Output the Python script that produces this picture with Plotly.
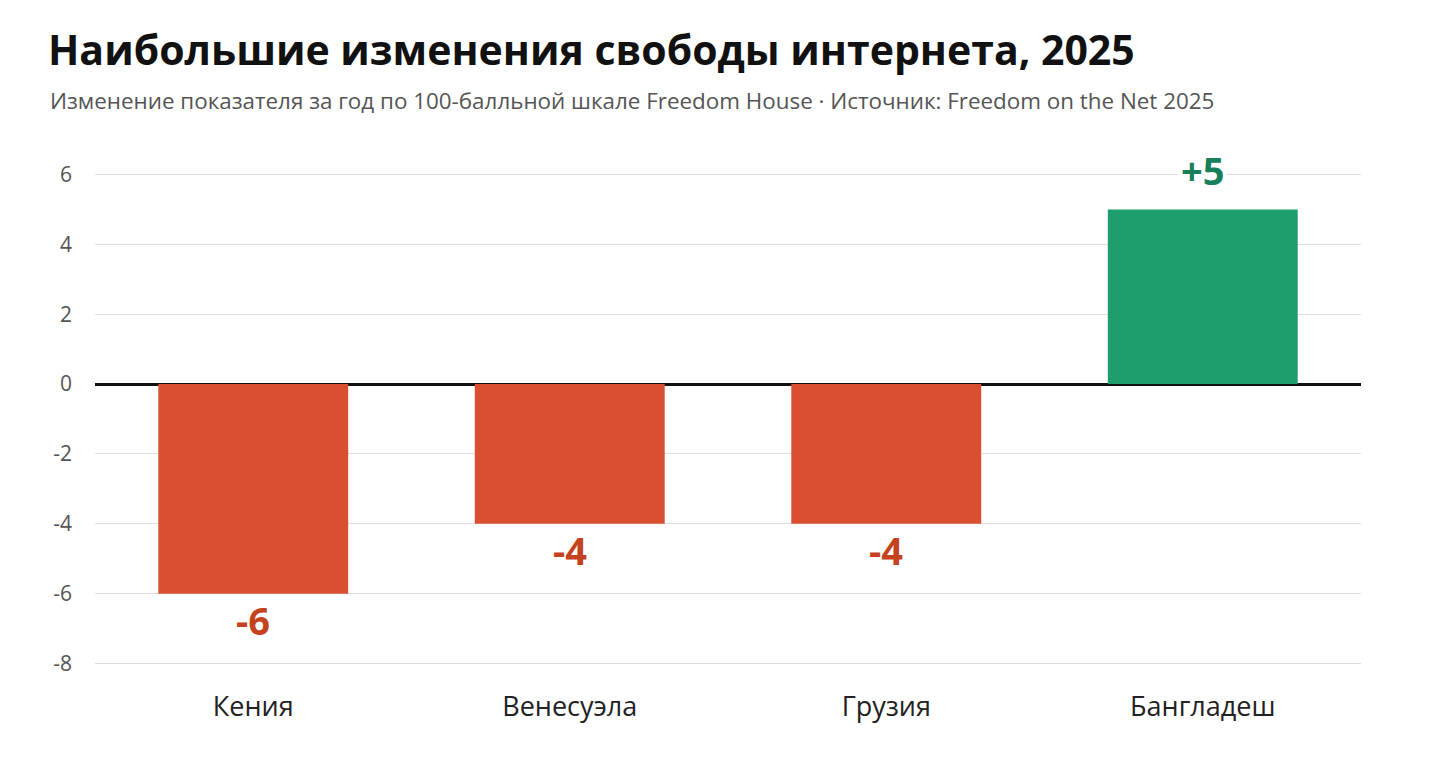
import plotly.graph_objects as go

# Data
countries = ["Кения", "Венесуэла", "Грузия", "Бангладеш"]
changes = [-6, -4, -4, 5]
value_labels = ["-6", "-4", "-4", "+5"]
y_ticks = [-8, -6, -4, -2, 0, 2, 4, 6]
y_tick_text = ["-8", "-6", "-4", "-2", "0", "2", "4", "6"]

RED = "#D94F30"
GREEN = "#1C9E6D"
RED_TXT = "#C4421E"
GREEN_TXT = "#17805A"
FONT = "Open Sans, Noto Sans, sans-serif"

# page has 8px body margin, so figure is a bit smaller than the window
W, H = 1432, 767
PL, PT, PR, PB = 87, 148.5, 79, 93.5
plot_h = H - PT - PB

bar_colors = [GREEN if v > 0 else RED for v in changes]

fig = go.Figure()
fig.add_trace(go.Bar(
    x=countries, y=changes,
    marker=dict(color=bar_colors, line=dict(width=0)),
    width=0.6,
    hoverinfo="skip",
))

# value labels (white box so gridline is masked behind "+5")
for c, v, lab in zip(countries, changes, value_labels):
    pos = v > 0
    fig.add_annotation(
        x=c, y=v, text=f"<b>{lab}</b>", showarrow=False,
        yanchor="bottom" if pos else "top",
        yshift=10 if pos else 3,
        bgcolor="white" if pos else "rgba(0,0,0,0)", borderpad=2,
        font=dict(size=38, color=GREEN_TXT if pos else RED_TXT, family=FONT),
    )

# subtitle
fig.add_annotation(
    xref="paper", yref="paper", x=(40 - PL) / (W - PL - PR), y=(H - PB - 92) / plot_h,
    xanchor="left", yanchor="middle", showarrow=False,
    text="Изменение показателя за год по 100-балльной шкале Freedom House · Источник: Freedom on the Net 2025",
    font=dict(size=22.4, color="#555555", family=FONT),
)

fig.update_layout(
    title=dict(
        text="<b>Наибольшие изменения свободы интернета, 2025</b>",
        x=40 / W, xref="container", xanchor="left",
        y=1 - 43 / H, yref="container", yanchor="middle",
        font=dict(size=41, color="#111111", family=FONT),
    ),
    width=W, height=H,
    margin=dict(l=PL, r=PR, t=PT, b=PB),
    paper_bgcolor="white", plot_bgcolor="white",
    showlegend=False,
    font=dict(family=FONT),
)
fig.update_xaxes(
    showgrid=False, showline=False, ticks="",
    tickfont=dict(size=27, color="#222222", family=FONT),
    ticklabelstandoff=7,
)
fig.update_yaxes(
    range=[-8.5, 6.5], tickvals=y_ticks, ticktext=y_tick_text,
    showgrid=True, gridcolor="#DFDFDF", gridwidth=1.2,
    zeroline=True, zerolinecolor="#111111", zerolinewidth=2.5,
    showline=False, ticks="",
    tickfont=dict(size=21, color="#555555", family=FONT),
    ticklabelstandoff=22,
)

fig.write_html("out.html")
